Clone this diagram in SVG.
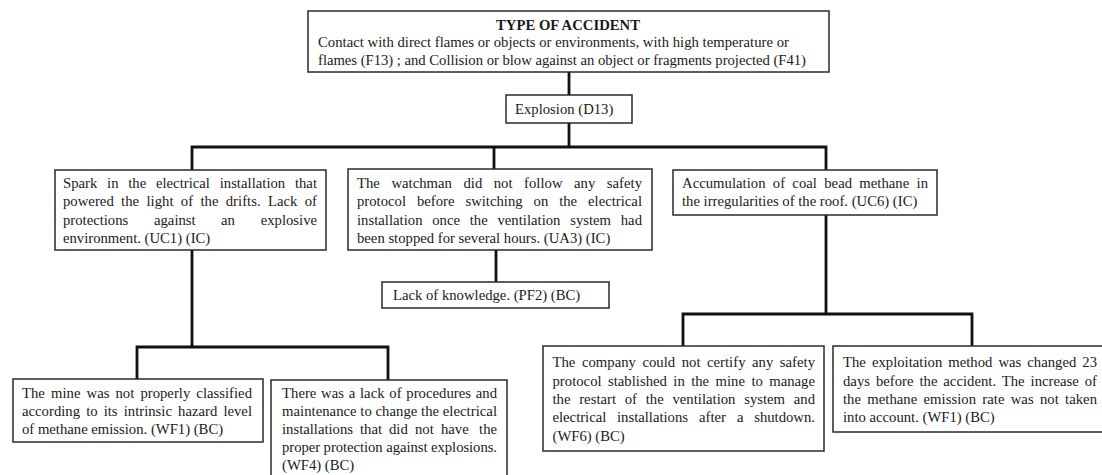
<svg xmlns="http://www.w3.org/2000/svg" width="1102" height="475" viewBox="0 0 1102 475">
<style>
.box{fill:#fff;stroke:#2a2a2a;stroke-width:1.5}
.t{font-family:"Liberation Serif","Times New Roman",serif;font-size:14.7px;fill:#1a1a1a}
.b{font-weight:bold}
.c{fill:none;stroke:#111;stroke-width:2.8;stroke-linejoin:miter}
</style>
<rect width="1102" height="475" fill="#fff"/>
<g id="connectors">
<polyline class="c" points="569,72 569,95"/>
<polyline class="c" points="569,123 569,147"/>
<polyline class="c" points="192,170 192,147 826,147 826,170"/>
<polyline class="c" points="494,147 494,169"/>
<polyline class="c" points="192,250 192,347"/>
<polyline class="c" points="137,379 137,347 388,347 388,380"/>
<polyline class="c" points="496,250 496,282"/>
<polyline class="c" points="826,215 826,314"/>
<polyline class="c" points="683,346 683,314 972,314 972,346"/>
</g>
<g id="type-of-accident">
<rect class="box" x="308" y="11" width="521" height="61"/>
<text class="t b" x="568" y="30" text-anchor="middle">TYPE OF ACCIDENT</text>
<text class="t" x="318" y="47" textLength="471" lengthAdjust="spacing">Contact with direct flames or objects or environments, with high temperature or</text>
<text class="t" x="318" y="65" textLength="488" lengthAdjust="spacing">flames (F13) ; and Collision or blow against an object or fragments projected (F41)</text>
</g>
<g id="explosion">
<rect class="box" x="506" y="95" width="126" height="28"/>
<text class="t" x="515" y="114">Explosion (D13)</text>
</g>
<g id="uc1">
<rect class="box" x="55" y="170" width="271" height="80"/>
<text class="t" x="63" y="188" word-spacing="6" textLength="254" lengthAdjust="spacing">Spark in the electrical installation that</text>
<text class="t" x="63" y="206" word-spacing="3.6" textLength="254" lengthAdjust="spacing">powered the light of the drifts. Lack of</text>
<text class="t" y="225"><tspan x="63">protections</tspan><tspan x="154">against</tspan><tspan x="221">an</tspan><tspan x="317" text-anchor="end">explosive</tspan></text>
<text class="t" x="63" y="243">environment. (UC1) (IC)</text>
</g>
<g id="ua3">
<rect class="box" x="348" y="169" width="304" height="81"/>
<text class="t" x="357" y="188" word-spacing="7.8" textLength="285" lengthAdjust="spacing">The watchman did not follow any safety</text>
<text class="t" x="357" y="206" word-spacing="7.2" textLength="285" lengthAdjust="spacing">protocol before switching on the electrical</text>
<text class="t" x="357" y="225" word-spacing="6" textLength="285" lengthAdjust="spacing">installation once the ventilation system had</text>
<text class="t" x="357" y="243">been stopped for several hours. (UA3) (IC)</text>
</g>
<g id="uc6">
<rect class="box" x="673" y="170" width="264" height="45"/>
<text class="t" x="682" y="188" word-spacing="3.6" textLength="246" lengthAdjust="spacing">Accumulation of coal bead methane in</text>
<text class="t" x="682" y="206">the irregularities of the roof. (UC6) (IC)</text>
</g>
<g id="pf2">
<rect class="box" x="382" y="282" width="227" height="26"/>
<text class="t" x="393" y="300">Lack of knowledge. (PF2) (BC)</text>
</g>
<g id="wf1-left">
<rect class="box" x="13" y="379" width="250" height="63"/>
<text class="t" x="22" y="398" word-spacing="2.4" textLength="230" lengthAdjust="spacing">The mine was not properly classified</text>
<text class="t" x="22" y="416" word-spacing="2.4" textLength="230" lengthAdjust="spacing">according to its intrinsic hazard level</text>
<text class="t" x="22" y="434">of methane emission. (WF1) (BC)</text>
</g>
<g id="wf4">
<rect class="box" x="271" y="380" width="236" height="100"/>
<text class="t" x="282" y="398" word-spacing="1" textLength="215" lengthAdjust="spacing">There was a lack of procedures and</text>
<text class="t" x="282" y="416" textLength="215" lengthAdjust="spacing">maintenance to change the electrical</text>
<text class="t" y="434"><tspan x="282">installations</tspan><tspan x="360">that</tspan><tspan x="389">did</tspan><tspan x="415">not</tspan><tspan x="441">have</tspan><tspan x="497" text-anchor="end">the</tspan></text>
<text class="t" x="282" y="452" textLength="215" lengthAdjust="spacing">proper protection against explosions.</text>
<text class="t" x="282" y="470">(WF4) (BC)</text>
</g>
<g id="wf6">
<rect class="box" x="543" y="346" width="281" height="105"/>
<text class="t" x="552.5" y="367" word-spacing="2.8" textLength="262.5" lengthAdjust="spacing">The company could not certify any safety</text>
<text class="t" x="552.5" y="386" word-spacing="2.7" textLength="262.5" lengthAdjust="spacing">protocol stablished in the mine to manage</text>
<text class="t" x="552.5" y="404" word-spacing="5" textLength="262.5" lengthAdjust="spacing">the restart of the ventilation system and</text>
<text class="t" y="422"><tspan x="552.5">electrical</tspan><tspan x="617">installations</tspan><tspan x="699">after</tspan><tspan x="737">a</tspan><tspan x="815" text-anchor="end">shutdown.</tspan></text>
<text class="t" x="552.5" y="441">(WF6) (BC)</text>
</g>
<g id="wf1-right">
<rect class="box" x="833" y="346" width="275" height="86"/>
<text class="t" x="843" y="367" word-spacing="2.3" textLength="254" lengthAdjust="spacing">The exploitation method was changed 23</text>
<text class="t" x="843" y="386" word-spacing="2.2" textLength="254" lengthAdjust="spacing">days before the accident. The increase of</text>
<text class="t" x="843" y="404" word-spacing="2.6" textLength="254" lengthAdjust="spacing">the methane emission rate was not taken</text>
<text class="t" x="843" y="422">into account. (WF1) (BC)</text>
</g>
</svg>
